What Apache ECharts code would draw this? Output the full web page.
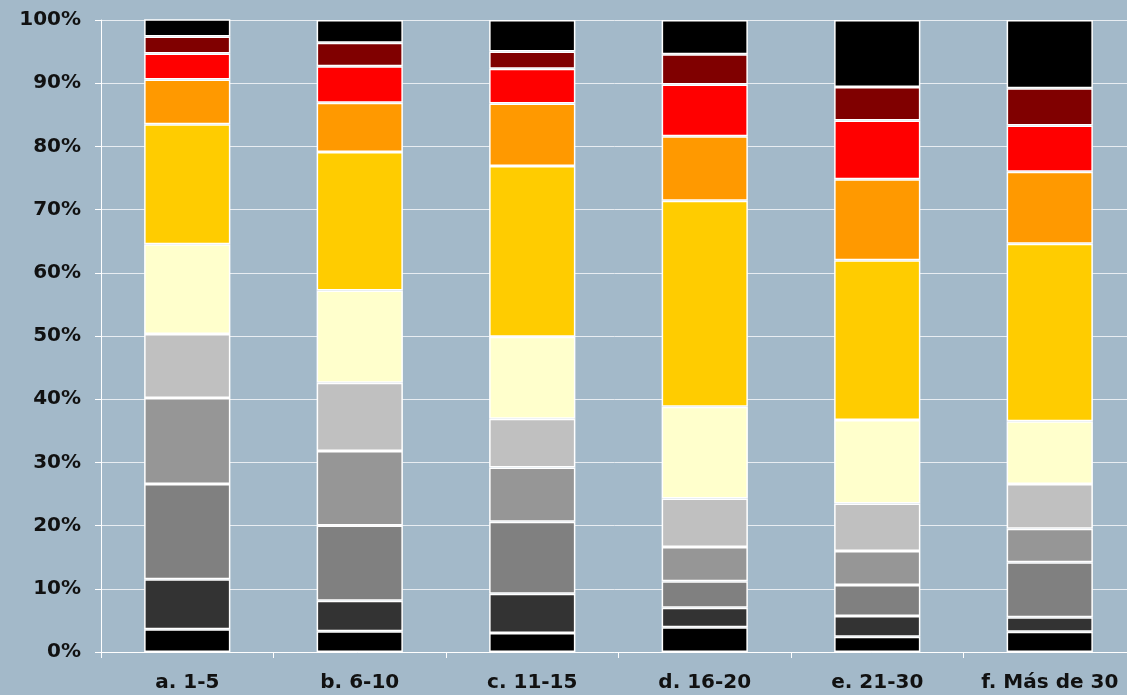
<!DOCTYPE html>
<html>
<head>
<meta charset="utf-8">
<script src="https://cdn.jsdelivr.net/npm/echarts@6/dist/echarts.min.js"></script>
<style>
	html, body { margin: 0; padding: 0; background: #A3B9C9; }
	#chart { width: 1127px; height: 695px; }
</style>
</head>
<body>
<div id="chart"></div>
<script>
let categories = ["a. 1-5", "b. 6-10", "c. 11-15", "d. 16-20", "e. 21-30", "f. Más de 30"]

// segment shares (%) from bottom to top, one array per band
let band1 = [3.6, 3.3, 3.0, 3.9, 2.4, 3.2]
let band2 = [7.9, 4.8, 6.2, 3.1, 3.3, 2.3]
let band3 = [15.1, 11.9, 11.4, 4.2, 4.9, 8.7]
let band4 = [13.6, 11.8, 8.6, 5.4, 5.4, 5.3]
let band5 = [10.1, 10.8, 7.7, 7.7, 7.5, 7.1]
let band6 = [14.2, 14.6, 13.0, 14.5, 13.2, 9.9]
let band7 = [19.0, 21.9, 27.0, 32.6, 25.3, 28.1]
let band8 = [7.1, 7.8, 9.9, 10.2, 12.8, 11.4]
let band9 = [4.1, 5.8, 5.5, 8.2, 9.3, 7.3]
let band10 = [2.7, 3.7, 2.7, 4.8, 5.3, 5.9]
let band11 = [2.8, 3.6, 5.0, 5.4, 10.6, 10.8]

let bands = [band1, band2, band3, band4, band5, band6, band7, band8, band9, band10, band11]
let colors = ["#000000", "#333333", "#808080", "#969696", "#C0C0C0", "#FFFFCC",
	"#FFCC00", "#FF9900", "#FF0000", "#800000", "#000000"]

let chart = echarts.init(document.getElementById("chart"))

let option = {
	backgroundColor: "#A3B9C9",
	animation: false,
	grid: {
		left: 101,
		width: 1035,
		top: 20,
		bottom: 43,
		containLabel: false,
		outerBoundsMode: "none"
	},
	xAxis: {
		type: "category",
		data: categories,
		axisLine: {
			lineStyle: { color: "#FFFFFF", width: 1 }
		},
		axisTick: {
			show: true,
			length: 6,
			lineStyle: { color: "#FFFFFF" }
		},
		axisLabel: {
			interval: 0,
			color: "#111111",
			fontFamily: "DejaVu Sans",
			fontWeight: "bold",
			fontSize: 20,
			margin: 21
		}
	},
	yAxis: {
		type: "value",
		min: 0,
		max: 100,
		interval: 10,
		axisLine: {
			show: true,
			lineStyle: { color: "#FFFFFF", width: 1 }
		},
		axisTick: {
			show: true,
			length: 6,
			lineStyle: { color: "#FFFFFF" }
		},
		axisLabel: {
			formatter: "{value}%",
			color: "#111111",
			fontFamily: "DejaVu Sans",
			fontWeight: "bold",
			fontSize: 20,
			margin: 20
		},
		splitLine: {
			lineStyle: { color: "rgba(255,255,255,0.75)", width: 1 }
		}
	},
	series: bands.map(function (v, i) {
		return {
			name: "band" + (i + 1),
			type: "bar",
			stack: "total",
			barWidth: "50%",
			data: v,
			itemStyle: {
				color: colors[i],
				borderColor: "#FFFFFF",
				borderWidth: 1.5
			}
		}
	})
}
chart.setOption(option)
</script>
</body>
</html>
